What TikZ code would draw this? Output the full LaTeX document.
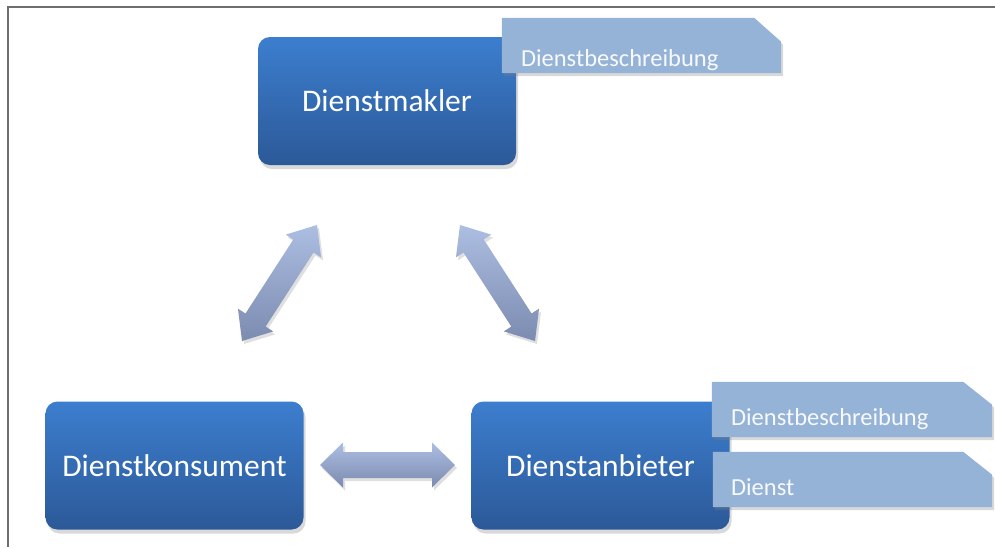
\documentclass[tikz,border=0pt]{standalone}
\usepackage{fontspec}
\setmainfont{Carlito}
\usetikzlibrary{calc,shadows}
\definecolor{boxtop}{RGB}{60,126,206}
\definecolor{boxbot}{RGB}{44,89,152}
\definecolor{tagfill}{RGB}{149,179,215}
\definecolor{arrtop}{RGB}{172,190,226}
\definecolor{arrbot}{RGB}{124,139,176}
\definecolor{framegray}{RGB}{110,110,110}
\tikzset{
  box/.style={rectangle, rounded corners=12pt, minimum width=258pt, minimum height=128pt,
    top color=boxtop, bottom color=boxbot, text=white, inner sep=0pt,
    font=\fontsize{31.5}{37}\selectfont,
    drop shadow={opacity=0.3, shadow xshift=2pt, shadow yshift=-4pt}},
  tagbox/.style={rectangle, minimum width=279pt, minimum height=55pt, inner sep=0pt},
  tagshape/.style={fill=tagfill,
    drop shadow={opacity=0.3, shadow xshift=2pt, shadow yshift=-3pt}},
  tagtext/.style={text=white!92!tagfill, font=\fontsize{24.5}{29}\selectfont,
    inner sep=0pt, anchor=base west},
  frameline/.style={draw=framegray, line width=2pt},
  arrowshade/.style={top color=arrtop, bottom color=arrbot,
    drop shadow={opacity=0.25, shadow xshift=2pt, shadow yshift=-3pt}}
}
% tag with chamfered north east corner, drawn on the anchors of node #1
\newcommand\tagpath[3]{%
  \path[tagshape] (#1.south west) -- (#1.north west) -- ($(#1.north east)+(-#2,0)$)
    -- ($(#1.north east)+(0,#3)$) -- (#1.south east) -- cycle;
}
% double block arrow between tips #1 and #2; head length #3, head half width #4, shaft half width #5
\newcommand\blockarrow[5]{%
  \coordinate (ha) at ($(#1)!#3!(#2)$);
  \coordinate (hb) at ($(#2)!#3!(#1)$);
  \path[arrowshade] (#1) -- ($(ha)!#4!90:(#2)$) -- ($(ha)!#5!90:(#2)$)
    -- ($(hb)!#5!-90:(#1)$) -- ($(hb)!#4!-90:(#1)$) -- (#2)
    -- ($(hb)!#4!90:(#1)$) -- ($(hb)!#5!90:(#1)$)
    -- ($(ha)!#5!-90:(#2)$) -- ($(ha)!#4!-90:(#2)$) -- cycle;
}
\begin{document}
\begin{tikzpicture}[x=1pt,y=-1pt]
\useasboundingbox (0,0) rectangle (995,547);
\coordinate (f1) at (8,547);
\coordinate (f2) at (8,7);
\coordinate (f3) at (995,7);
\draw[frameline] (f1) -- (f2) -- (f3);

\node[box] (makler) at (387,101) {Dienstmakler};
\node[box] (konsument) at (174.5,465.5) {Dienstkonsument};
\node[box] (anbieter) at (600.5,465.5) {Dienstanbieter};

\node[tagbox] (tg1) at (641.5,45.5) {};
\tagpath{tg1}{27}{24}
\node[tagtext] (tt1) at ($(tg1.south west)+(19,-7)$) {Dienstbeschreibung};
\node[tagbox, minimum width=280pt] (tg2) at (852,409.5) {};
\tagpath{tg2}{29}{23}
\node[tagtext] (tt2) at ($(tg2.south west)+(19,-12)$) {Dienstbeschreibung};
\node[tagbox] (tg3) at (852.5,479.5) {};
\tagpath{tg3}{29}{23}
\node[tagtext] (tt3) at ($(tg3.south west)+(18,-12)$) {Dienst};

\coordinate (l1) at (317,225);
\coordinate (l2) at (242,341);
\coordinate (r1) at (460,225);
\coordinate (r2) at (535,341);
\coordinate (h1) at (320,465);
\coordinate (h2) at (455,465);
\blockarrow{l1}{l2}{25pt}{21pt}{12pt}
\blockarrow{r1}{r2}{25pt}{21pt}{12pt}
\blockarrow{h1}{h2}{23pt}{22.5pt}{13pt}
\end{tikzpicture}
\end{document}
